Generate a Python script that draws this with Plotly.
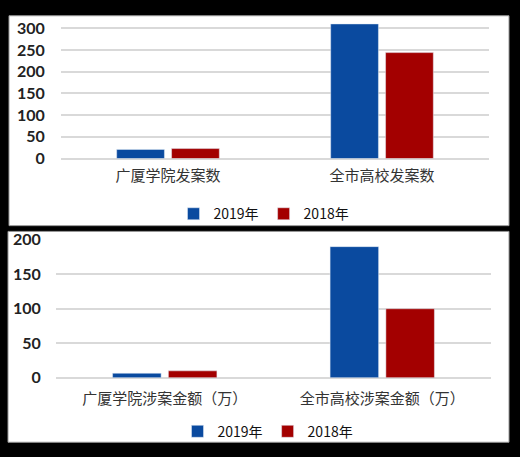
import plotly.graph_objects as go

W, H = 520, 457

# ---- data ----
cats_top = ["广厦学院发案数", "全市高校发案数"]
top_2019 = [21, 310]
top_2018 = [23, 244]

cats_bot = ["广厦学院涉案金额（万）", "全市高校涉案金额（万）"]
bot_2019 = [6.5, 190]
bot_2018 = [10, 100]

series_names = ["2019年", "2018年"]
top_ticks = [0, 50, 100, 150, 200, 250, 300]
bot_ticks = [0, 50, 100, 150, 200]

BLUE = "#0A4A9F"
RED = "#A30000"
GRID = "#D9D9D9"
CJK = "Noto Sans CJK SC"


def py(px):
    return 1 - px / H


def pxx(px):
    return px / W


fig = go.Figure()

fig.add_trace(go.Bar(x=cats_top, y=top_2019, name=series_names[0], marker_color=BLUE,
                     xaxis="x", yaxis="y", legend="legend"))
fig.add_trace(go.Bar(x=cats_top, y=top_2018, name=series_names[1], marker_color=RED,
                     xaxis="x", yaxis="y", legend="legend"))
fig.add_trace(go.Bar(x=cats_bot, y=bot_2019, name=series_names[0], marker_color=BLUE,
                     xaxis="x2", yaxis="y2", legend="legend2"))
fig.add_trace(go.Bar(x=cats_bot, y=bot_2018, name=series_names[1], marker_color=RED,
                     xaxis="x2", yaxis="y2", legend="legend2"))

tickfont_y = dict(family="Lato, Liberation Sans, sans-serif", size=16, color="#222222", weight="bold")
tickfont_x = dict(family=CJK, size=15, color="#333333")

fig.update_layout(
    width=W, height=H,
    margin=dict(l=0, r=0, t=0, b=0),
    paper_bgcolor="black",
    plot_bgcolor="white",
    barmode="group",
    bargap=0.487,
    bargroupgap=0.13,
    showlegend=True,
    xaxis=dict(domain=[pxx(61), pxx(489)], anchor="y", showgrid=False, zeroline=False,
               showline=False, ticks="outside", ticklen=3, tickcolor="rgba(0,0,0,0)",
               tickfont=tickfont_x),
    yaxis=dict(domain=[py(155), py(10)], anchor="x", range=[0, 320], tickvals=top_ticks,
               showgrid=True, gridcolor=GRID, gridwidth=1.5, zeroline=True, zerolinecolor=GRID,
               zerolinewidth=1.5, showline=False, ticks="outside", ticklen=12,
               tickcolor="rgba(0,0,0,0)", tickfont=tickfont_y),
    xaxis2=dict(domain=[pxx(56), pxx(491)], anchor="y2", showgrid=False, zeroline=False,
                showline=False, ticks="outside", ticklen=7, tickcolor="rgba(0,0,0,0)",
                tickfont=tickfont_x),
    yaxis2=dict(domain=[py(383.7), py(239.7)], anchor="x2", range=[0, 200], tickvals=bot_ticks,
                showgrid=True, gridcolor=GRID, gridwidth=1.5, zeroline=True, zerolinecolor=GRID,
                zerolinewidth=1.5, showline=False, ticks="outside", ticklen=11,
                tickcolor="rgba(0,0,0,0)", tickfont=tickfont_y),
    legend=dict(orientation="h", x=pxx(264), xanchor="center", y=py(213), yanchor="middle",
                bgcolor="rgba(0,0,0,0)", font=dict(family=CJK, size=14, color="#111111"),
                itemwidth=30, tracegroupgap=0),
    legend2=dict(orientation="h", x=pxx(268), xanchor="center", y=py(440), yanchor="middle",
                 bgcolor="rgba(0,0,0,0)", font=dict(family=CJK, size=14, color="#111111"),
                 itemwidth=30, tracegroupgap=0),
    shapes=[
        dict(type="rect", xref="paper", yref="paper", x0=pxx(9), x1=pxx(509), y0=py(225), y1=py(6),
             fillcolor="white", line=dict(width=1, color="#999999"), layer="below"),
        dict(type="rect", xref="paper", yref="paper", x0=pxx(8), x1=pxx(509), y0=py(451), y1=py(231),
             fillcolor="white", line=dict(width=1, color="#999999"), layer="below"),
    ],
)

fig.write_html("out.html", config={"displayModeBar": False},
               post_script="document.body.style.margin='0';document.body.style.background='black';")
